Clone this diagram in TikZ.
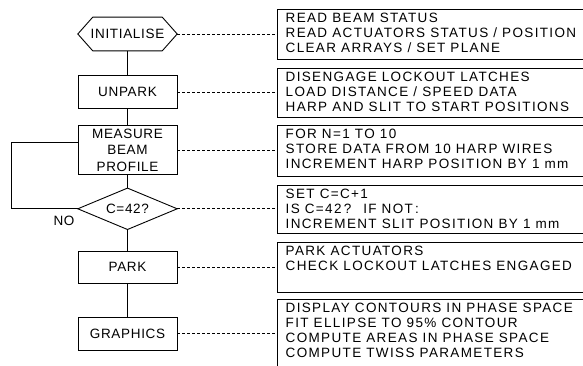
\documentclass[tikz,border=0pt]{standalone}
\usepackage{fontspec}
\setmainfont{Liberation Sans}[LetterSpace=5]
\newfontfamily\rtfont{Liberation Sans}[LetterSpace=10]
\begin{document}
\begin{tikzpicture}[x=1pt,y=-1pt,
  lbl/.style={inner sep=0pt, minimum width=99pt, font=\fontsize{13.5}{16.5}\selectfont, align=center},
  box/.style={lbl, draw, line width=0.9pt},
  rbox/.style={draw, line width=0.9pt, anchor=north west, inner sep=0pt, minimum width=330pt},
  rtxt/.style={anchor=north west, inner sep=0pt, align=left, font=\rtfont\fontsize{13.5}{15}\selectfont},
  conn/.style={line width=0.9pt},
  dsh/.style={line width=0.8pt, dash pattern=on 3pt off 2pt}]
\useasboundingbox (0,0) rectangle (583,366);
\clip (0,0) rectangle (583,366);

% left column
\node[lbl, minimum height=33.4pt] (init) at (127.5,34) {INITIALISE};
\draw[conn] (init.west) -- ([xshift=15pt]init.north west) -- ([xshift=-15pt]init.north east)
  -- (init.east) -- ([xshift=-15pt]init.south east) -- ([xshift=15pt]init.south west) -- cycle;
\node[box, minimum height=32.6pt] (unpark) at (127.5,92) {UNPARK};
\node[box, minimum height=49.3pt] (meas) at (127.5,150.3) {MEASURE\\BEAM\\PROFILE};
\node[lbl, minimum height=41pt] (dec) at (127.5,208.8) {C=42?};
\draw[conn] (dec.west) -- (dec.north) -- (dec.east) -- (dec.south) -- cycle;
\node[box, minimum height=32pt] (park) at (127.5,267) {PARK};
\node[box, minimum height=32.7pt] (graph) at (127.5,333.7) {GRAPHICS};

\draw[conn] (init.south) -- (unpark.north);
\draw[conn] (unpark.south) -- (meas.north);
\draw[conn] (meas.south) -- (dec.north);
\draw[conn] (dec.south) -- (park.north);
\draw[conn] (park.south) -- (graph.north);

\coordinate (lp) at (11,208.8);
\draw[conn] (dec.west) -- (lp) |- ([yshift=8pt]meas.west);
\node[lbl, minimum width=0pt] (no) at (64,221) {NO};

% right column
\node[rbox, minimum height=50pt] (r1) at (276.5,9.3) {};
\node[rtxt] (t1) at ([xshift=9pt,yshift=-2.85pt]r1.north west)
  {\strut READ BEAM STATUS\\READ ACTUATORS STATUS / POSITION\\CLEAR ARRAYS / SET PLANE};
\node[rbox, minimum height=49pt] (r2) at (276.5,67.7) {};
\node[rtxt] (t2) at ([xshift=9pt,yshift=-2.85pt]r2.north west)
  {\strut DISENGAGE LOCKOUT LATCHES\\LOAD DISTANCE / SPEED DATA\\HARP AND SLIT TO START POSITIONS};
\node[rbox, minimum height=50.4pt] (r3) at (276.5,125.3) {};
\node[rtxt] (t3) at ([xshift=9pt,yshift=-2.85pt]r3.north west)
  {\strut FOR N=1 TO 10\\STORE DATA FROM 10 HARP WIRES\\INCREMENT HARP POSITION BY 1 mm};
\node[rbox, minimum height=48.3pt] (r4) at (276.5,185) {};
\node[rtxt] (t4) at ([xshift=9pt,yshift=-2.85pt]r4.north west)
  {\strut SET C=C+1\\IS C=42\,? \ IF NOT\,:\\INCREMENT SLIT POSITION BY 1 mm};
\node[rbox, minimum height=49.5pt] (r5) at (276.5,242) {};
\node[rtxt] (t5) at ([xshift=9pt,yshift=-2.85pt]r5.north west)
  {\strut PARK ACTUATORS\\CHECK LOCKOUT LATCHES ENGAGED};
\node[rbox, minimum height=70pt] (r6) at (276.5,299) {};
\node[rtxt] (t6) at ([xshift=9pt,yshift=-2.85pt]r6.north west)
  {\strut DISPLAY CONTOURS IN PHASE SPACE\\FIT ELLIPSE TO 95\% CONTOUR\\COMPUTE AREAS IN PHASE SPACE\\COMPUTE TWISS PARAMETERS};

% dashed links
\draw[dsh] (init.east) -- (init.east -| r1.west);
\draw[dsh] (unpark.east) -- (unpark.east -| r2.west);
\draw[dsh] (meas.east) -- (meas.east -| r3.west);
\draw[dsh] (dec.east) -- (dec.east -| r4.west);
\draw[dsh] (park.east) -- (park.east -| r5.west);
\draw[dsh] (graph.east) -- (graph.east -| r6.west);
\end{tikzpicture}
\end{document}
